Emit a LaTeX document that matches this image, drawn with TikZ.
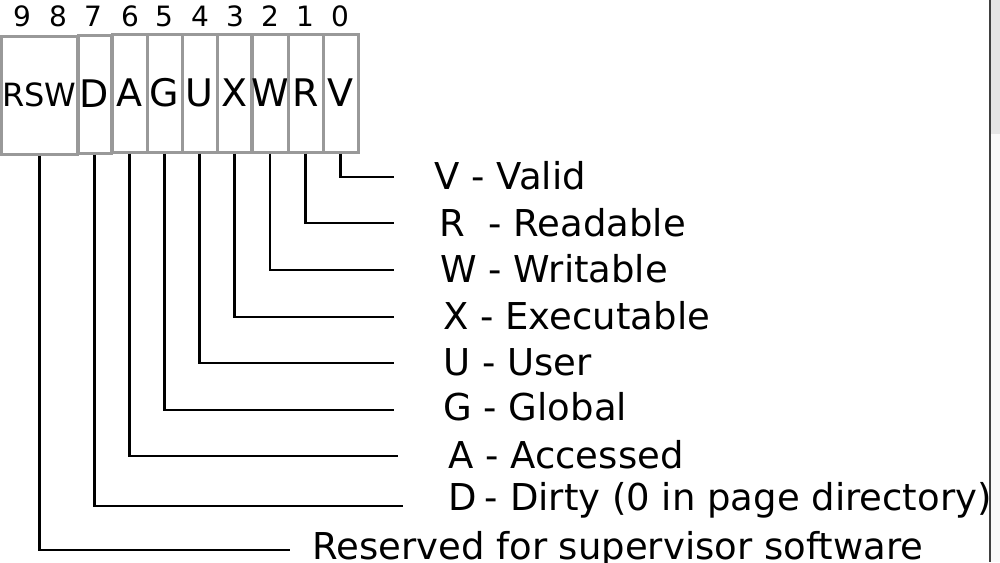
\documentclass[tikz,border=0pt]{standalone}
\usepackage{fontspec}
\setmainfont{DejaVu Sans}
\begin{document}
\begin{tikzpicture}[x=0.5pt,y=-0.5pt,
  bitbox/.style={draw=boxgray,line width=1.5pt,inner sep=0pt,minimum height=59pt,minimum width=17.5pt,font=\fontsize{19}{19}\selectfont},
  bitnum/.style={inner sep=0pt,font=\fontsize{14}{14}\selectfont},
  lbl/.style={anchor=base west,inner sep=0pt,font=\fontsize{18.5}{18.5}\selectfont},
  conn/.style={line width=1.4pt,black}]
\definecolor{boxgray}{HTML}{999999}
\useasboundingbox (0,0) rectangle (1000,562);
\clip (0,0) rectangle (1000,562);
% boxes
\node[bitbox,minimum width=37.75pt,font=\fontsize{16}{16}\selectfont] (rsw) at (39.25,95) {RSW};
\node[bitbox,minimum width=16.5pt,minimum height=59pt] (d) at (94.5,94) {D};
\node[bitbox] (a) at (129.5,93) {A};
\node[bitbox] (g) at (164.5,93) {G};
\node[bitbox] (u) at (199.5,93) {U};
\node[bitbox] (x) at (234.5,93) {X};
\node[bitbox] (w) at (270,93) {W};
\node[bitbox] (r) at (305.5,93) {R};
\node[bitbox] (v) at (340.5,93) {V};
% bit numbers
\node[bitnum] (n9) at (22,16) {9};
\node[bitnum] (n8) at (58,16) {8};
\node[bitnum] (n7) at (93,16) {7};
\node[bitnum] (n6) at (130,16) {6};
\node[bitnum] (n5) at (164,16) {5};
\node[bitnum] (n4) at (200,16) {4};
\node[bitnum] (n3) at (235,16) {3};
\node[bitnum] (n2) at (270,16) {2};
\node[bitnum] (n1) at (305,16) {1};
\node[bitnum] (n0) at (340,16) {0};
% labels
\node[lbl] (lv) at (434,189) {V - Valid};
\node[lbl] (lr) at (439,236) {R\ \ - Readable};
\node[lbl] (lw) at (440,282) {W - Writable};
\node[lbl] (lx) at (443,329) {X - Executable};
\node[lbl] (lu) at (443,375) {U - User};
\node[lbl] (lg) at (443,420) {G - Global};
\node[lbl] (la) at (448,468) {A - Accessed};
\node[lbl] (ld) at (448,510) {D\kern-0.1em{} - Dirty (0 in page directory)};
\node[lbl] (lrsw) at (312,559) {Reserved for supervisor software};
% connector ends
\coordinate (ev) at (394,177);
\coordinate (er) at (394,223);
\coordinate (ew) at (394,270);
\coordinate (ex) at (394,317);
\coordinate (eu) at (394,363);
\coordinate (eg) at (394,410);
\coordinate (ea) at (398,456);
\coordinate (ed) at (403,506);
\coordinate (ersw) at (290,550);
\draw[conn] (v.south) |- (ev);
\draw[conn] (r.south) |- (er);
\draw[conn] (w.south) |- (ew);
\draw[conn] (x.south) |- (ex);
\draw[conn] (u.south) |- (eu);
\draw[conn] (g.south) |- (eg);
\draw[conn] (a.south) |- (ea);
\draw[conn] (d.south) |- (ed);
\draw[conn] (rsw.south) |- (ersw);
% right edge of the window
\fill[gray!20] (991,0) rectangle (1000,134);
\fill[gray!5] (991,134) rectangle (1000,562);
\draw[line width=1pt,black!75] (990,0) -- (990,562);
\end{tikzpicture}
\end{document}
